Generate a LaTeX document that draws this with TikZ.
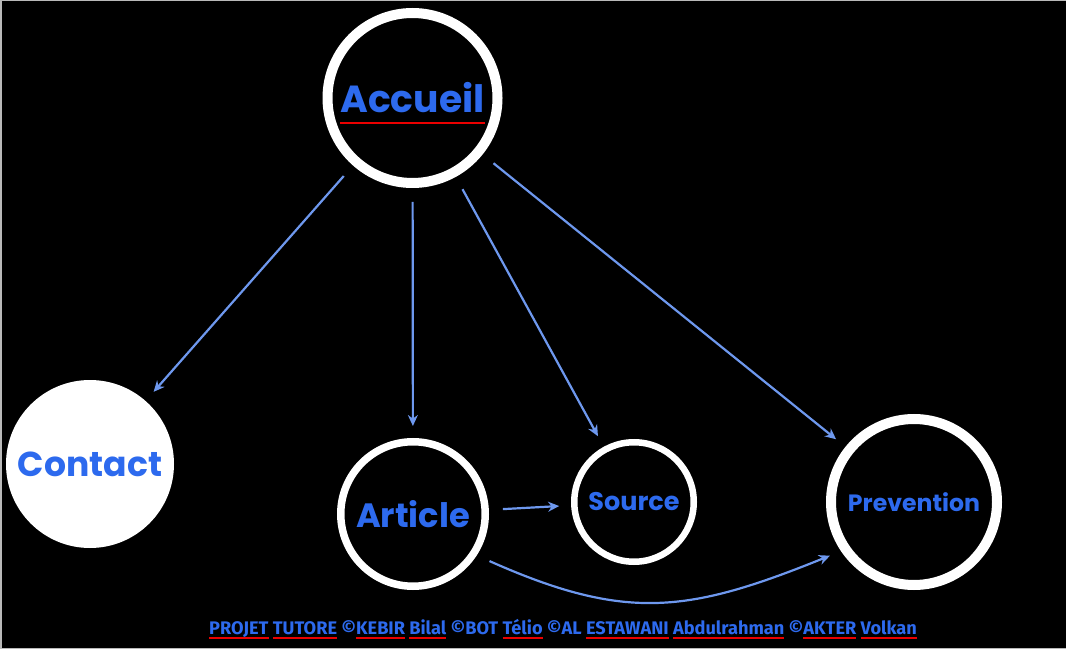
\documentclass[tikz,border=0pt]{standalone}
\usepackage{fontspec}
\setmainfont{Poppins}
\newfontfamily\footfont{Fira Sans}
\usetikzlibrary{arrows.meta}
\definecolor{txtblue}{RGB}{45,106,238}
\definecolor{arrblue}{RGB}{110,152,238}
\definecolor{ulred}{RGB}{235,0,0}
\definecolor{edgegray}{RGB}{185,185,185}
\newcommand\fs[1]{\fontsize{#1}{#1}\selectfont}
\newcommand\redul[2][5pt]{\setbox0\hbox{#2}\rlap{\smash{\textcolor{ulred}{\rule[-#1]{\wd0}{2pt}}}}\box0\relax}

\begin{document}
\begin{tikzpicture}[x=1pt, y=1pt,
    ring/.style={circle, draw=white, inner sep=0pt, text=txtblue},
    disc/.style={circle, fill=white, inner sep=0pt, text=txtblue},
    arr/.style={-{Stealth[length=11pt, width=10pt]}, draw=arrblue, line width=2.2pt, shorten <=14pt, shorten >=12pt},
    foot/.style={font=\footfont\bfseries\fs{18.2}, text=txtblue, inner sep=0pt, anchor=base}]
    \useasboundingbox (0,0) rectangle (1066,649);
    \fill[black] (0,0) rectangle (1066,649);
    \draw[edgegray, line width=1.5pt] (1066,648.25) -- (0.75,648.25) -- (0.75,0.75) -- (1066,0.75);
    % pages
    \node[ring, line width=10pt, minimum size=170pt, font=\bfseries\fs{37.7}] (accueil) at (412.5,551) {\redul[11pt]{Accueil}};
    \node[disc, minimum size=168pt, font=\bfseries\fs{34.6}] (contact) at (90,185) {Contact};
    \node[ring, line width=7.5pt, minimum size=144.5pt, font=\bfseries\fs{33.7}] (article) at (413,135) {Article};
    \node[ring, line width=6.5pt, minimum size=119.5pt, font=\bfseries\fs{25.5}] (source) at (634,147) {Source};
    \node[ring, line width=10pt, minimum size=166pt, font=\bfseries\fs{23.6}] (prevention) at (914,147) {Prevention};
    % liens
    \draw[arr] (accueil) -- (contact);
    \draw[arr] (accueil) -- (article);
    \draw[arr] (accueil) -- (source);
    \draw[arr] (accueil) -- (prevention);
    \draw[arr] (article) -- (source);
    \draw[arr] (article.-33) to[out=-24, in=-158, looseness=1.15] (prevention.-146);
    \node[foot] (credits) at (563,15) {\redul{PROJET} \redul{TUTORE} ©\redul{KEBIR} \redul{Bilal} ©BOT \redul{Télio} ©AL \redul{ESTAWANI} \redul{Abdulrahman} ©\redul{AKTER} \redul{Volkan}};
\end{tikzpicture}
\end{document}
